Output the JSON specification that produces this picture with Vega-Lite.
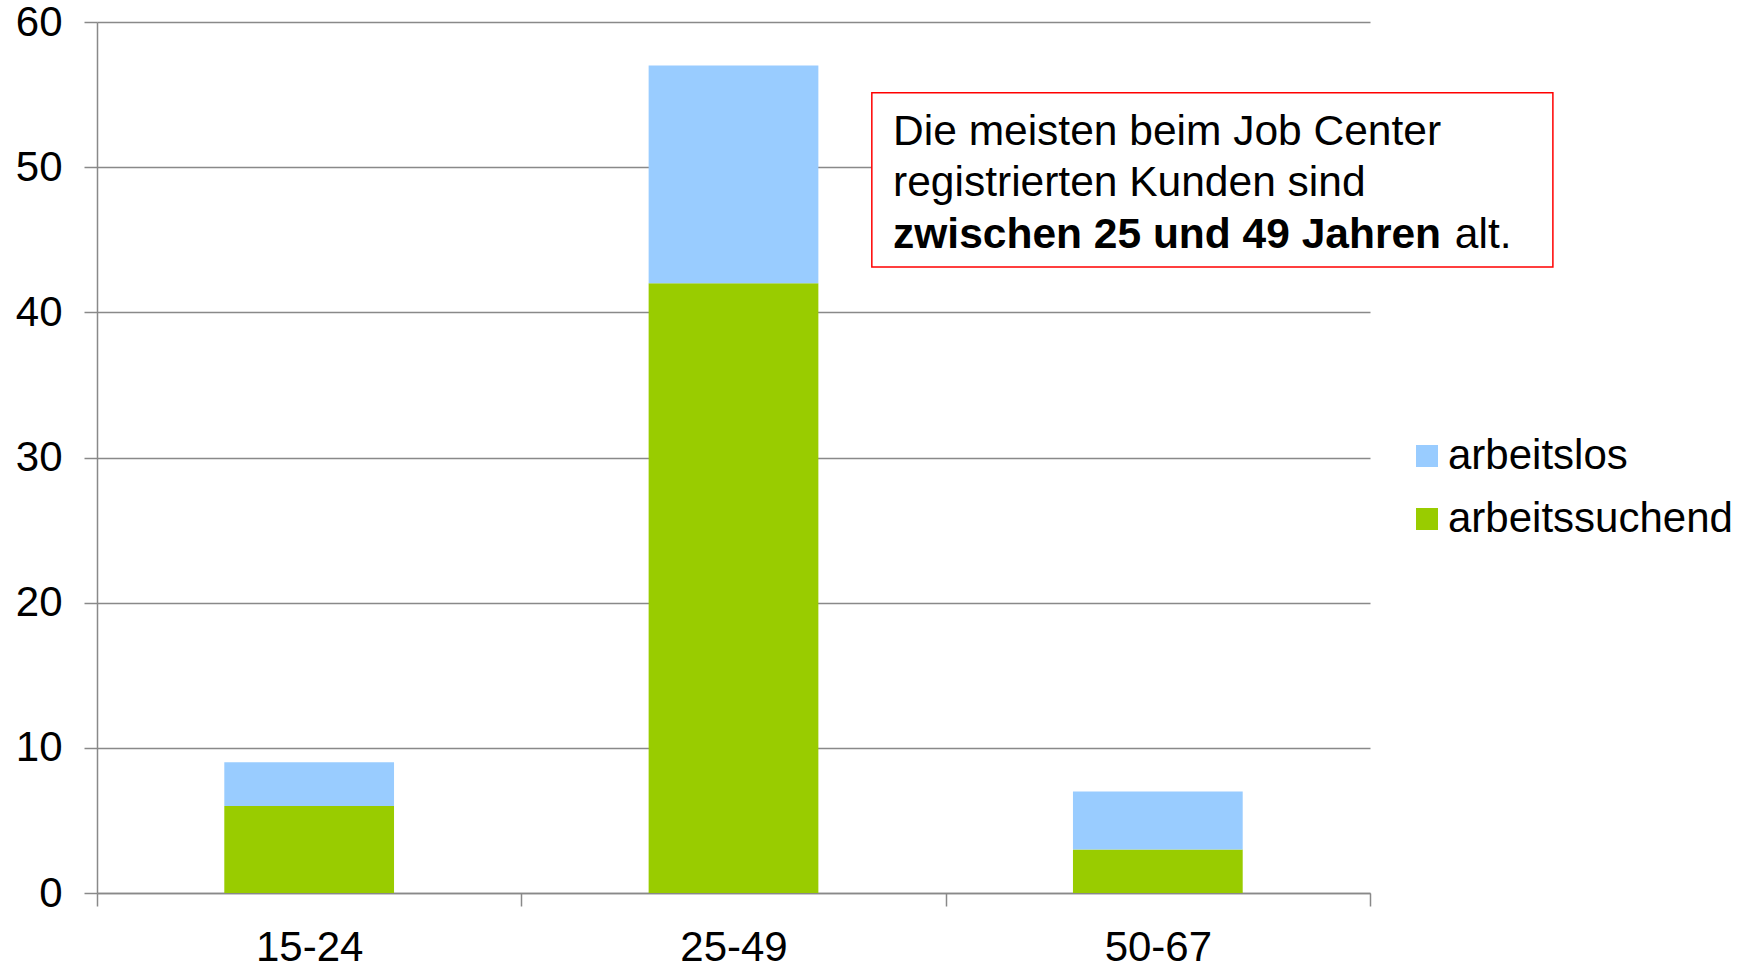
{
  "$schema": "https://vega.github.io/schema/vega-lite/v6.json",
  "autosize": "none",
  "width": 1273,
  "height": 871,
  "padding": {"left": 97, "top": 22, "right": 384, "bottom": 71},
  "background": "white",
  "config": {
    "font": "Liberation Sans",
    "view": {"stroke": null},
    "axis": {
      "labelFont": "Liberation Sans",
      "labelFontSize": 42,
      "labelColor": "black",
      "domainColor": "#898989",
      "domainWidth": 1.5,
      "tickColor": "#898989",
      "tickWidth": 1.5,
      "tickSize": 13,
      "gridColor": "#898989",
      "gridWidth": 1.5,
      "title": null
    },
    "legend": {
      "labelFont": "Liberation Sans",
      "labelFontSize": 42,
      "labelColor": "black",
      "labelLimit": 600
    }
  },
  "layer": [
    {
      "data": {
        "values": [
          {"age": "15-24", "status": "arbeitssuchend", "value": 6, "rank": 1},
          {"age": "15-24", "status": "arbeitslos", "value": 3, "rank": 2},
          {"age": "25-49", "status": "arbeitssuchend", "value": 42, "rank": 1},
          {"age": "25-49", "status": "arbeitslos", "value": 15, "rank": 2},
          {"age": "50-67", "status": "arbeitssuchend", "value": 3, "rank": 1},
          {"age": "50-67", "status": "arbeitslos", "value": 4, "rank": 2}
        ]
      },
      "mark": {"type": "bar", "width": {"band": 0.4}},
      "encoding": {
        "x": {
          "field": "age",
          "type": "nominal",
          "scale": {"paddingInner": 0, "paddingOuter": 0},
          "axis": {"labelAngle": 0, "tickBand": "extent", "labelPadding": 21, "grid": false}
        },
        "y": {
          "field": "value",
          "type": "quantitative",
          "stack": "zero",
          "scale": {"domain": [0, 60], "nice": false},
          "axis": {"values": [0, 10, 20, 30, 40, 50, 60], "labelPadding": 22, "grid": true}
        },
        "color": {
          "field": "status",
          "type": "nominal",
          "scale": {"domain": ["arbeitslos", "arbeitssuchend"], "range": ["#99CCFF", "#99CC00"]},
          "legend": {
            "title": null,
            "orient": "none",
            "legendX": 1309,
            "legendY": 413,
            "symbolType": "square",
            "symbolSize": 484,
            "symbolStrokeWidth": 0,
            "labelOffset": 0,
            "rowPadding": 21,
            "padding": 0
          }
        },
        "order": {"field": "rank", "type": "quantitative"}
      }
    },
    {
      "data": {"values": [{}]},
      "layer": [
        {
          "mark": {"type": "rect", "fill": "white", "stroke": "#FF0000", "strokeWidth": 1.5},
          "encoding": {
            "x": {"datum": 1.826, "type": "quantitative", "scale": {"domain": [0, 3], "nice": false, "zero": false}, "axis": null},
            "x2": {"datum": 3.431},
            "y": {"datum": 55.13, "type": "quantitative"},
            "y2": {"datum": 43.13}
          }
        },
        {
          "mark": {"type": "text", "align": "left", "baseline": "alphabetic", "fontSize": 42.5, "font": "Liberation Sans", "color": "black"},
          "encoding": {
            "x": {"datum": 1.876, "type": "quantitative"},
            "y": {"datum": 51.55, "type": "quantitative"},
            "text": {"value": "Die meisten beim Job Center"}
          }
        },
        {
          "mark": {"type": "text", "align": "left", "baseline": "alphabetic", "fontSize": 42.5, "font": "Liberation Sans", "color": "black"},
          "encoding": {
            "x": {"datum": 1.876, "type": "quantitative"},
            "y": {"datum": 48.0, "type": "quantitative"},
            "text": {"value": "registrierten Kunden sind"}
          }
        },
        {
          "mark": {"type": "text", "align": "left", "baseline": "alphabetic", "fontSize": 42.5, "font": "Liberation Sans", "fontWeight": "bold", "color": "black"},
          "encoding": {
            "x": {"datum": 1.876, "type": "quantitative"},
            "y": {"datum": 44.45, "type": "quantitative"},
            "text": {"value": "zwischen 25 und 49 Jahren"}
          }
        },
        {
          "mark": {"type": "text", "align": "left", "baseline": "alphabetic", "fontSize": 42.5, "font": "Liberation Sans", "color": "black"},
          "encoding": {
            "x": {"datum": 3.2, "type": "quantitative"},
            "y": {"datum": 44.45, "type": "quantitative"},
            "text": {"value": "alt."}
          }
        }
      ]
    }
  ],
  "resolve": {"scale": {"x": "independent"}}
}
